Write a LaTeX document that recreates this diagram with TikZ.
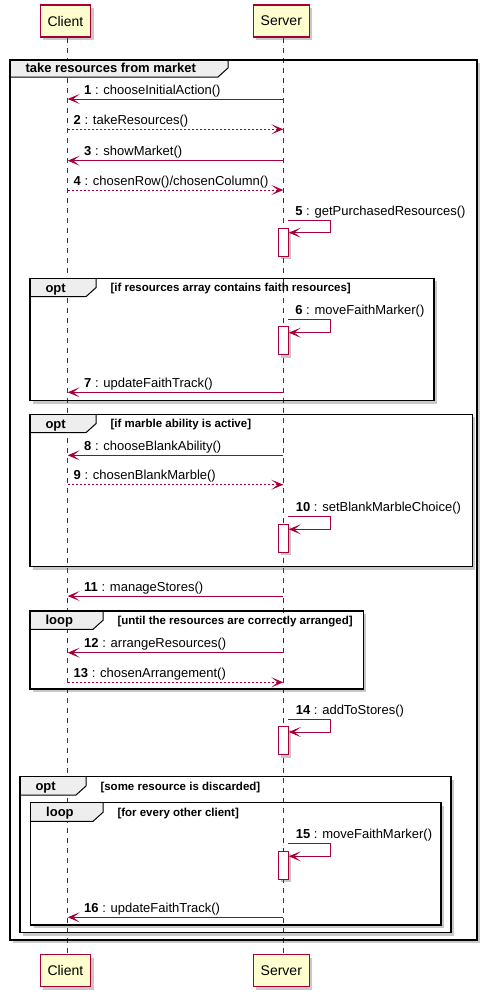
\documentclass[tikz,border=0pt]{standalone}
\usepackage{fontspec}
\setmainfont{Liberation Sans}
\usetikzlibrary{arrows.meta,shadows}

\definecolor{plum}{HTML}{A80036}
\definecolor{partfill}{HTML}{FEFECE}
\definecolor{tabfill}{HTML}{EEEEEE}

\tikzset{
  softshadow/.style={drop shadow={shadow xshift=3pt, shadow yshift=-3pt, opacity=0.3, fill=black!70}},
  participant/.style={draw=plum, fill=partfill, line width=1.1pt, minimum height=32pt,
    inner sep=0pt, font=\fontsize{14}{16}\selectfont, softshadow},
  lifeline/.style={draw=plum, line width=1pt, dash pattern=on 5pt off 5pt},
  activation/.style={draw=plum, fill=white, line width=1pt, minimum width=10pt,
    minimum height=28pt, inner sep=0pt, softshadow},
  msg/.style={draw=plum, line width=1pt, -{Stealth[length=12pt,width=10pt,inset=6.5pt]}},
  reply/.style={msg, dash pattern=on 2pt off 2pt},
  msgtext/.style={anchor=base west, inner sep=0pt, font=\fontsize{13}{15}\selectfont},
  framebg/.style={fill=white, softshadow},
  tabbg/.style={fill=tabfill},
  tabedge/.style={draw=black, line width=1pt},
  frameedge/.style={draw=black, line width=1.5pt},
  framekind/.style={anchor=base west, inner sep=0pt, font=\fontsize{13}{15}\selectfont\bfseries},
  framecond/.style={anchor=base west, inner sep=0pt, font=\fontsize{11.5}{13}\selectfont\bfseries},
}

% white body and shadow of a combined fragment
\newcommand\seqframebg[4]{%
  \path[framebg] (#1,#2) rectangle (#3,#4);
}

% #1 left  #2 top  #3 right  #4 bottom  #5 tab right edge  #6 tab height
% #7 operator  #8 guard  #9 node name prefix
\newcommand\seqframe[9]{%
  \path[tabbg] (#1,#2) -- (#5,#2) -- (#5,#2+#6-9) -- (#5-10,#2+#6) -- (#1,#2+#6) -- cycle;
  \draw[tabedge] (#5,#2) -- (#5,#2+#6-9) -- (#5-10,#2+#6) -- (#1,#2+#6);
  \draw[frameedge] (#1,#2) rectangle (#3,#4);
  \node[framekind] (#9-kind) at (#1+15.3,#2+#6-4.5) {#7};
  \node[framecond] (#9-cond) at (#5+14.3,#2+#6-5) {#8};
}

\begin{document}
\begin{tikzpicture}[x=1pt,y=-1pt]
\useasboundingbox (0,0) rectangle (489,999);

% fragment bodies, outermost first
\seqframebg{10}{60}{477}{940}
\seqframebg{30}{278.3}{434}{400.7}
\seqframebg{30}{414.3}{472.3}{566.7}
\seqframebg{30}{611}{363.3}{689}
\seqframebg{20}{776.7}{451}{932.7}
\seqframebg{30.7}{802.7}{441}{925}

% participants
\node[participant, minimum width=50.7pt] (clientTop) at (65.4,21) {Client};
\node[participant, minimum width=56pt]   (serverTop) at (281.3,21) {Server};
\node[participant, minimum width=50.7pt] (clientBot) at (65.4,970.5) {Client};
\node[participant, minimum width=56pt]   (serverBot) at (281.3,970.5) {Server};

% message anchor points on both lifelines
\foreach \n/\y in {1/99, 2/129.3, 3/160.7, 4/190, 7/392.3, 8/455.3, 9/484.7,
                   11/596, 12/652.7, 13/682.3, 16/917.3} {
  \coordinate (c\n) at (67.7,\y);
  \coordinate (s\n) at (283.3,\y);
}
\coordinate (cline) at (67.7,0);
\coordinate (sline) at (283.3,0);

% lifelines
\draw[lifeline] (clientTop.south -| cline) -- (clientBot.north -| cline);
\draw[lifeline] (serverTop.south -| sline) -- (serverBot.north -| sline);

% fragment tabs, borders and guards
\seqframe{10}{60}{477}{940}{228}{17}{take resources from market}{}{market}
\seqframe{30}{278.3}{434}{400.7}{96}{18.3}{opt}{[if resources array contains faith resources]}{optfaith}
\seqframe{30}{414.3}{472.3}{566.7}{96}{18.3}{opt}{[if marble ability is active]}{optmarble}
\seqframe{30}{611}{363.3}{689}{103}{18.3}{loop}{[until the resources are correctly arranged]}{looparrange}
\seqframe{20}{776.7}{451}{932.7}{86}{18.3}{opt}{[some resource is discarded]}{optdiscard}
\seqframe{30.7}{802.7}{441}{925}{103}{18.6}{loop}{[for every other client]}{loopclients}

% activations
\node[activation] (act5)  at (283.3,242.3) {};
\node[activation] (act6)  at (283.3,340.8) {};
\node[activation] (act10) at (283.3,538.3) {};
\node[activation] (act14) at (283.3,740.5) {};
\node[activation] (act15) at (283.3,865) {};

% self-call start points
\coordinate (a5)  at (288.3,220.7);
\coordinate (a6)  at (288.3,319.3);
\coordinate (a10) at (288.3,516.3);
\coordinate (a14) at (288.3,719.3);
\coordinate (a15) at (288.3,843.3);

% calls and replies between Client and Server
\draw[msg]   (s1) -- (c1);
\draw[reply] (c2) -- (s2);
\draw[msg]   (s3) -- (c3);
\draw[reply] (c4) -- (s4);
\draw[msg]   (s7) -- (c7);
\draw[msg]   (s8) -- (c8);
\draw[reply] (c9) -- (s9);
\draw[msg]   (s11) -- (c11);
\draw[msg]   (s12) -- (c12);
\draw[reply] (c13) -- (s13);
\draw[msg]   (s16) -- (c16);

% self calls on Server
\draw[msg] (a5)  -- ++(42.4,0) |- ([yshift=-12pt]a5 -| act5.east);
\draw[msg] (a6)  -- ++(42.4,0) |- ([yshift=-13.4pt]a6 -| act6.east);
\draw[msg] (a10) -- ++(42.4,0) |- ([yshift=-13pt]a10 -| act10.east);
\draw[msg] (a14) -- ++(42.4,0) |- ([yshift=-12.7pt]a14 -| act14.east);
\draw[msg] (a15) -- ++(42.4,0) |- ([yshift=-13pt]a15 -| act15.east);

% message labels
\node[msgtext] (t1)  at ([xshift=16.3pt,yshift=5pt]c1)  {\textbf{1} : chooseInitialAction()};
\node[msgtext] (t2)  at ([xshift=5.8pt,yshift=5pt]c2)   {\textbf{2} : takeResources()};
\node[msgtext] (t3)  at ([xshift=16.3pt,yshift=5pt]c3)  {\textbf{3} : showMarket()};
\node[msgtext] (t4)  at ([xshift=5.8pt,yshift=5pt]c4)   {\textbf{4} : chosenRow()/chosenColumn()};
\node[msgtext] (t5)  at ([xshift=6.8pt,yshift=5pt]a5)   {\textbf{5} : getPurchasedResources()};
\node[msgtext] (t6)  at ([xshift=6.8pt,yshift=5pt]a6)   {\textbf{6} : moveFaithMarker()};
\node[msgtext] (t7)  at ([xshift=16.3pt,yshift=5pt]c7)  {\textbf{7} : updateFaithTrack()};
\node[msgtext] (t8)  at ([xshift=16.3pt,yshift=5pt]c8)  {\textbf{8} : chooseBlankAbility()};
\node[msgtext] (t9)  at ([xshift=5.8pt,yshift=5pt]c9)   {\textbf{9} : chosenBlankMarble()};
\node[msgtext] (t10) at ([xshift=7.3pt,yshift=5pt]a10)  {\textbf{10} : setBlankMarbleChoice()};
\node[msgtext] (t11) at ([xshift=16.3pt,yshift=5pt]c11) {\textbf{11} : manageStores()};
\node[msgtext] (t12) at ([xshift=16.3pt,yshift=5pt]c12) {\textbf{12} : arrangeResources()};
\node[msgtext] (t13) at ([xshift=5.8pt,yshift=5pt]c13)  {\textbf{13} : chosenArrangement()};
\node[msgtext] (t14) at ([xshift=7.3pt,yshift=5pt]a14)  {\textbf{14} : addToStores()};
\node[msgtext] (t15) at ([xshift=7.3pt,yshift=5pt]a15)  {\textbf{15} : moveFaithMarker()};
\node[msgtext] (t16) at ([xshift=16.3pt,yshift=5pt]c16) {\textbf{16} : updateFaithTrack()};
\end{tikzpicture}
\end{document}
